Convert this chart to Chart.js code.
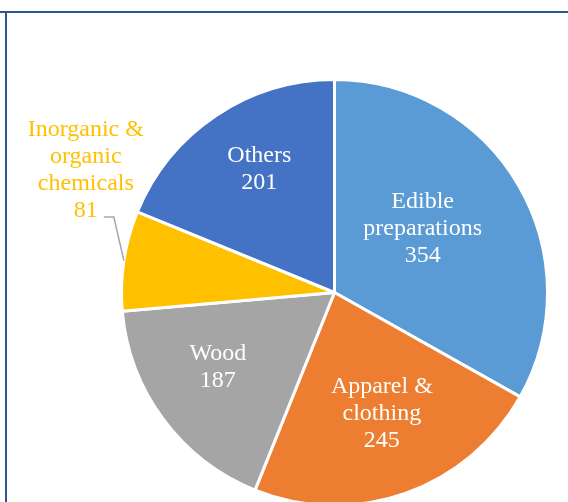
<!DOCTYPE html>
<html>
<head>
<meta charset="utf-8">
<script src="https://cdn.jsdelivr.net/npm/chart.js@4/dist/chart.umd.min.js"></script>
<style>
  html, body { margin: 0; padding: 0; background: #fff; overflow: hidden; }
  body { width: 568px; height: 502px; position: relative; }
  #wrap { position: absolute; left: 0; top: 0; width: 568px; height: 510px; }
  .frameTop { position: absolute; left: 0; top: 11px; width: 568px; height: 2px; background: #2F5597; }
  .frameLeft { position: absolute; left: 5px; top: 11px; width: 2px; height: 491px; background: #2F5597; }
  .fontWarm { position: absolute; left: -999px; top: 0; font: 24px "Liberation Serif"; }
</style>
</head>
<body>
<span class="fontWarm">Others 201</span>
<div class="frameTop"></div>
<div class="frameLeft"></div>
<div id="wrap"><canvas id="pieChart"></canvas></div>
<script>
// ===== DATOS =====
const categories = ['Edible preparations', 'Apparel & clothing', 'Wood', 'Inorganic & organic chemicals', 'Others'];
const labelLines = [['Edible', 'preparations'], ['Apparel &', 'clothing'], ['Wood'], ['Inorganic &', 'organic', 'chemicals'], ['Others']];
const values = [354, 245, 187, 81, 201];
const colors = ['#5B9BD5', '#ED7D31', '#A5A5A5', '#FFC000', '#4472C4'];

// where each label sits: fraction of radius and an angle shift (degrees)
const labelPlace = [
  { frac: 0.51, shift: -5.4, color: '#fff' },
  { frac: 0.61, shift: -2, color: '#fff' },
  { frac: 0.65, shift: 4, color: '#fff' },
  { frac: 1.3, shift: 17.5, color: '#FFC000', leader: true },
  { frac: 0.68, shift: 2.6, color: '#fff' }
];

const FONT = '24px "Liberation Serif", "Times New Roman", serif';

const sliceLabels = {
  id: 'sliceLabels',
  afterDatasetsDraw(chart) {
    const ctx = chart.ctx;
    const meta = chart.getDatasetMeta(0);
    ctx.save();
    ctx.font = FONT;
    ctx.textAlign = 'center';
    ctx.textBaseline = 'middle';
    const lh = 27;
    meta.data.forEach((arc, i) => {
      const p = arc.getProps(['x', 'y', 'startAngle', 'endAngle', 'outerRadius'], true);
      const place = labelPlace[i];
      const mid = (p.startAngle + p.endAngle) / 2;
      const ang = mid + place.shift * Math.PI / 180;
      const cx = p.x + Math.cos(ang) * p.outerRadius * place.frac;
      const cy = p.y + Math.sin(ang) * p.outerRadius * place.frac;
      const lines = labelLines[i].concat([String(values[i])]);
      const top = cy - (lines.length - 1) * lh / 2;

      if (place.leader) {
        // linea guia desde el borde del sector hasta el valor
        const ex = p.x + Math.cos(mid) * p.outerRadius;
        const ey = p.y + Math.sin(mid) * p.outerRadius;
        const bAng = mid + 10.3 * Math.PI / 180;
        const bx = p.x + Math.cos(bAng) * p.outerRadius * 1.095;
        const by = p.y + Math.sin(bAng) * p.outerRadius * 1.095;
        ctx.strokeStyle = '#A6A6A6';
        ctx.lineWidth = 1.5;
        ctx.beginPath();
        ctx.moveTo(ex, ey);
        ctx.lineTo(bx, by);
        ctx.lineTo(bx - 10, by);
        ctx.stroke();
      }

      ctx.fillStyle = place.color;
      lines.forEach((t, k) => ctx.fillText(t, cx, top + k * lh));
    });
    ctx.restore();
  }
};

function drawChart() {
  new Chart(document.getElementById('pieChart'), {
    type: 'pie',
    data: {
      labels: categories,
      datasets: [{
        data: values,
        backgroundColor: colors,
        borderColor: '#ffffff',
        borderWidth: 3
      }]
    },
    options: {
      responsive: true,
      maintainAspectRatio: false,
      animation: false,
      layout: { padding: { left: 120, right: 19, top: 78, bottom: 3 } },
      plugins: {
        legend: { display: false },
        tooltip: { enabled: false }
      }
    },
    plugins: [sliceLabels]
  });
}

document.fonts.load(FONT).then(drawChart, drawChart);
</script>
</body>
</html>
